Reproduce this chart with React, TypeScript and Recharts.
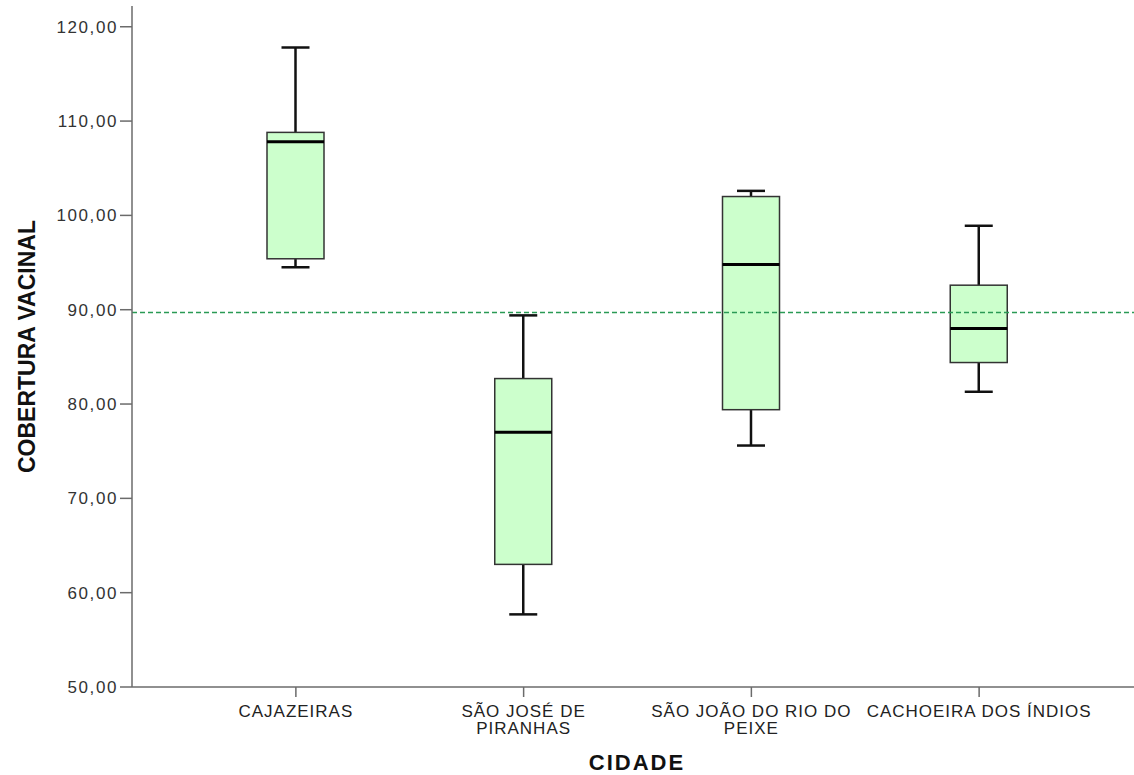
import React from 'react';
import { ComposedChart, Bar, XAxis, YAxis, ReferenceLine } from 'recharts';

// values
const cities = ['CAJAZEIRAS', 'SÃO JOSÉ DE\nPIRANHAS', 'SÃO JOÃO DO RIO DO\nPEIXE', 'CACHOEIRA DOS ÍNDIOS'];
const whiskerLow = [94.5, 57.7, 75.6, 81.3];
const quartile1 = [95.4, 63.0, 79.4, 84.4];
const medians = [107.8, 77.0, 94.8, 88.0];
const quartile3 = [108.8, 82.7, 102.0, 92.6];
const whiskerHigh = [117.8, 89.4, 102.6, 98.9];
const yTicks = [50, 60, 70, 80, 90, 100, 110, 120];
const referenceValue = 89.7;

const data = cities.map((city, i) => ({
  city,
  low: whiskerLow[i],
  q1: quartile1[i],
  median: medians[i],
  q3: quartile3[i],
  high: whiskerHigh[i],
}));

const FONT = '"Liberation Sans", Arial, sans-serif';

const BoxShape = (props: any) => {
  const { x, y, width, height, payload } = props;
  const top = Math.min(y, y + height);
  const h = Math.abs(height);
  const span = payload.high - payload.low;
  const py = (v: number) => top + ((payload.high - v) / span) * h;
  const cx = x + width / 2;
  const cap = 14;
  return (
    <g>
      <line x1={cx} x2={cx} y1={py(payload.high)} y2={py(payload.q3)} stroke="#111" strokeWidth={2.5} />
      <line x1={cx - cap} x2={cx + cap} y1={py(payload.high)} y2={py(payload.high)} stroke="#111" strokeWidth={2.5} />
      <line x1={cx} x2={cx} y1={py(payload.q1)} y2={py(payload.low)} stroke="#111" strokeWidth={2.5} />
      <line x1={cx - cap} x2={cx + cap} y1={py(payload.low)} y2={py(payload.low)} stroke="#111" strokeWidth={2.5} />
      <rect
        x={x}
        y={py(payload.q3)}
        width={width}
        height={py(payload.q1) - py(payload.q3)}
        fill="#ccffcc"
        stroke="#333"
        strokeWidth={1.5}
      />
      <line x1={x} x2={x + width} y1={py(payload.median)} y2={py(payload.median)} stroke="#000" strokeWidth={3} />
    </g>
  );
};

const CityTick = (props: any) => {
  const { x, y, payload } = props;
  const lines = String(payload.value).split('\n');
  return (
    <text
      x={x}
      y={y}
      textAnchor="middle"
      fontFamily={FONT}
      fontSize={17}
      letterSpacing={1}
      fill="#222"
    >
      {lines.map((line, i) => (
        <tspan key={i} x={x} dy={i === 0 ? 20 : 17}>
          {line}
        </tspan>
      ))}
    </text>
  );
};

const YTitle = (props: any) => {
  const { viewBox } = props;
  const cy = viewBox.y + viewBox.height / 2;
  const tx = 35;
  return (
    <text
      x={tx}
      y={cy}
      transform={`rotate(-90, ${tx}, ${cy})`}
      textAnchor="middle"
      fontFamily={FONT}
      fontWeight="bold"
      fontSize={23}
      fill="#111"
    >
      COBERTURA VACINAL
    </text>
  );
};

const formatTick = (v: number) => v.toFixed(2).replace('.', ',');

export default function App() {
  return (
    <div style={{ position: 'absolute', left: 0, top: 0, width: 1134, height: 775, background: '#fff' }}>
      <ComposedChart width={1134} height={775} data={data} margin={{ top: 6, right: 0, bottom: 0, left: 0 }}>
        <XAxis
          dataKey="city"
          height={88}
          padding={{ left: 50, right: 41 }}
          tick={<CityTick />}
          tickSize={10}
          tickMargin={0}
          interval={0}
          axisLine={{ stroke: '#6b6b6b', strokeWidth: 1.5 }}
          tickLine={{ stroke: '#6b6b6b', strokeWidth: 1.5 }}
          label={{
            value: 'CIDADE',
            position: 'insideBottom',
            offset: 5,
            dx: 4,
            style: { fontFamily: FONT, fontWeight: 'bold', fontSize: 22, fill: '#111', letterSpacing: 2 },
          }}
        />
        <YAxis
          width={132}
          type="number"
          domain={[50, 122.2]}
          ticks={yTicks}
          allowDataOverflow
          tickFormatter={formatTick}
          tickSize={12}
          tickMargin={2}
          tick={{ fontFamily: FONT, fontSize: 17, fill: '#333', letterSpacing: 1.6 }}
          axisLine={{ stroke: '#6b6b6b', strokeWidth: 1.5 }}
          tickLine={{ stroke: '#6b6b6b', strokeWidth: 1.5 }}
          label={{ content: <YTitle /> }}
        />
        <Bar
          dataKey={(d: any) => [d.low, d.high]}
          barSize={57}
          shape={<BoxShape />}
          isAnimationActive={false}
        />
        <ReferenceLine y={referenceValue} stroke="#2a9a55" strokeWidth={1.5} strokeDasharray="5 3" />
      </ComposedChart>
    </div>
  );
}
